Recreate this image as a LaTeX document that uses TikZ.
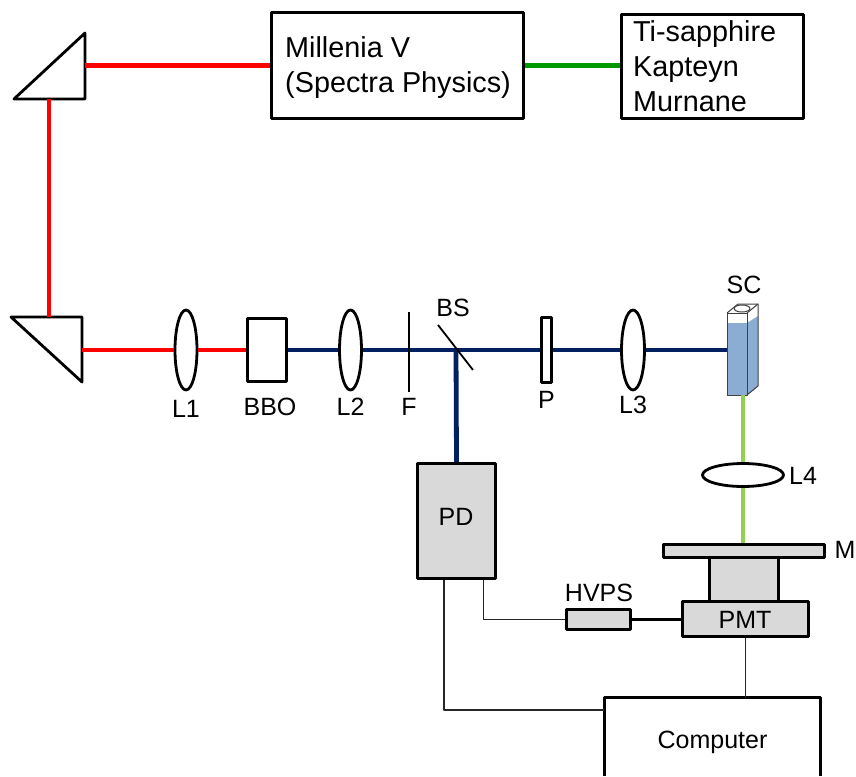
\documentclass[tikz,border=0pt]{standalone}
\usepackage{fontspec}
\setmainfont{Liberation Sans}
\usetikzlibrary{shapes.geometric}
\definecolor{beamred}{HTML}{FF0000}
\definecolor{beamnavy}{HTML}{002060}
\definecolor{beamgreen}{HTML}{009900}
\definecolor{beamlime}{HTML}{92D050}
\definecolor{boxgray}{HTML}{D9D9D9}
\definecolor{cellblue}{HTML}{8CADD3}

\begin{document}
\begin{tikzpicture}[x=1pt,y=-1pt,line join=round]
    \tikzstyle{annot}=[font=\fontsize{25}{29}\selectfont,inner sep=0pt]
    \tikzstyle{block}=[draw=black,line width=2.8pt,inner sep=0pt]
    \tikzstyle{gray block}=[block,fill=boxgray]
    \tikzstyle{laser text}=[inner sep=0pt,align=left,anchor=west,font=\fontsize{28.8}{35}\selectfont]
    \tikzstyle{lens}=[ellipse,draw=black,line width=2.8pt,inner sep=0pt,minimum width=22pt,minimum height=80pt]
    \tikzstyle{beam}=[line width=4.8pt]
    \tikzstyle{wire}=[draw=black!85,line width=1.5pt]
    \useasboundingbox (0,0) rectangle (856,776);

    % Draw the pump lasers
    \node[block,minimum width=252pt,minimum height=106pt] (mill) at (397.5,65.5) {};
    \node[block,minimum width=182pt,minimum height=104pt] (ti) at (712.5,66.5) {};
    \node[laser text] (mill-label) at (285,67.5) {Millenia V\\(Spectra Physics)};
    \node[laser text] (ti-label) at (633,66) {Ti-sapphire\\Kapteyn\\Murnane};

    % Draw the two prisms
    \coordinate (P1-a) at (14,99);
    \coordinate (P1-b) at (85,33);
    \coordinate (P1-c) at (85,99);
    \coordinate (P2-a) at (11,317);
    \coordinate (P2-b) at (82,317);
    \coordinate (P2-c) at (82,382);
    \draw[line width=2.8pt] (P1-a) -- (P1-b) -- (P1-c) -- cycle;
    \draw[line width=2.8pt] (P2-a) -- (P2-b) -- (P2-c) -- cycle;
    \coordinate (P1-out) at (85,65.5);
    \coordinate (P1-low) at (49,99);
    \coordinate (P2-top) at (49,317);
    \coordinate (P2-out) at (82,350);

    % Draw the lenses and the other optics on the beam line
    \node[lens] (L1) at (186,350) {};
    \node[block,minimum width=39pt,minimum height=63pt] (BBO) at (267,350) {};
    \node[lens] (L2) at (350.5,350) {};
    \coordinate (bs) at (456,350);
    \node[block,minimum width=10pt,minimum height=65pt] (P) at (546.5,350) {};
    \node[lens,minimum width=23pt] (L3) at (633,350) {};
    \node[lens,minimum width=81pt,minimum height=23pt] (L4) at (743,475) {};

    % Draw the sample cell
    \node[inner sep=0pt,minimum width=20pt,minimum height=82pt] (SC) at (737,354) {};
    \fill[white] (727,313) -- (738,304) -- (758,304) -- (758,386) -- (747,395) -- (727,395) -- cycle;
    \fill[cellblue] (727,323) -- (747,323) -- (758,316) -- (758,386) -- (747,395) -- (727,395) -- cycle;
    \draw[black!75,line width=1pt] (727,313) rectangle (747,395);
    \draw[black!75,line width=1pt] (727,313) -- (738,304) -- (758,304) -- (758,386) -- (747,395);
    \draw[black!75,line width=1pt] (747,313) -- (758,304);
    \draw[black!75,line width=1pt] (742,308.5) ellipse (8pt and 3.5pt);

    % Draw the detection blocks
    \node[gray block,minimum width=78pt,minimum height=115pt] (PD) at (456.5,521) {};
    \node[gray block,minimum width=161pt,minimum height=13pt] (M) at (744,551) {};
    \node[gray block,minimum width=69pt,minimum height=43pt] (tube) at (744,579.5) {};
    \node[gray block,minimum width=126pt,minimum height=35pt] (PMT) at (745.5,619) {};
    \node[gray block,minimum width=64pt,minimum height=20pt] (HVPS) at (598.5,619.5) {};
    \node[inner sep=0pt,minimum width=216pt,minimum height=78pt] (comp) at (712.5,737) {};
    \draw[line width=2.8pt] (comp.south west) -- (comp.north west) -- (comp.north east) -- (comp.south east);

    % Connect the optics with the laser beams
    \draw[beam,beamgreen] (mill.east) -- (ti.west |- mill.east);
    \foreach \source/\dest in {P1-out/mill.west,P1-low/P2-top,P2-out/L1.west,L1.east/BBO.west}
        \draw[beam,beamred] (\source) -- (\dest);
    \foreach \source/\dest in {BBO.east/L2.west,L2.east/bs,bs/P.west,P.east/L3.west,bs/PD.north}
        \draw[beam,beamnavy] (\source) -- (\dest);
    \draw[beam,beamnavy] (L3.east) -- (SC.west |- L3.east);
    \draw[beam,beamlime] (L4.north |- SC.south) -- (L4.north);
    \draw[beam,beamlime] (L4.south) -- (L4.south |- M.north);

    % The filter and the beam splitter sit on top of the beam
    \coordinate (F-top) at (409,312);
    \coordinate (F-low) at (409,392);
    \coordinate (bs-top) at (438,325);
    \coordinate (bs-low) at (473,370);
    \draw[line width=1.5pt] (F-top) -- (F-low);
    \draw[line width=1.8pt] (bs-top) -- (bs-low);

    % Connect the electronics
    \draw[wire] ([xshift=27pt]PD.south) |- (HVPS.west);
    \draw[wire] ([xshift=-12.5pt]PD.south) |- ([yshift=27pt]comp.west);
    \draw[wire] (PMT.south) -- (PMT.south |- comp.north);
    \draw[line width=2.8pt] (HVPS.east) -- (HVPS.east -| PMT.west);

    % Annotate the optics
    \node[annot,below of=L1,node distance=59pt] (l1-label) {L1};
    \node[annot,below of=BBO,node distance=57pt,xshift=3pt] (bbo-label) {BBO};
    \node[annot,below of=L2,node distance=57pt] (l2-label) {L2};
    \node[annot] (f-label) at (409,407) {F};
    \node[annot] (bs-label) at (453,308) {BS};
    \node[annot,below of=P,node distance=50pt] (p-label) {P};
    \node[annot,below of=L3,node distance=55pt] (l3-label) {L3};
    \node[annot] (sc-label) at (744,285) {SC};
    \node[annot] (l4-label) at (803,476) {L4};
    \node[annot] (m-label) at (845,550) {M};
    \node[annot] (hvps-label) at (599,593) {HVPS};
    \node[annot] (pd-label) at (456,517) {PD};
    \node[annot] (pmt-label) at (745,620) {PMT};
    \node[annot] (comp-label) at (712.5,742) {Computer};
\end{tikzpicture}
\end{document}
